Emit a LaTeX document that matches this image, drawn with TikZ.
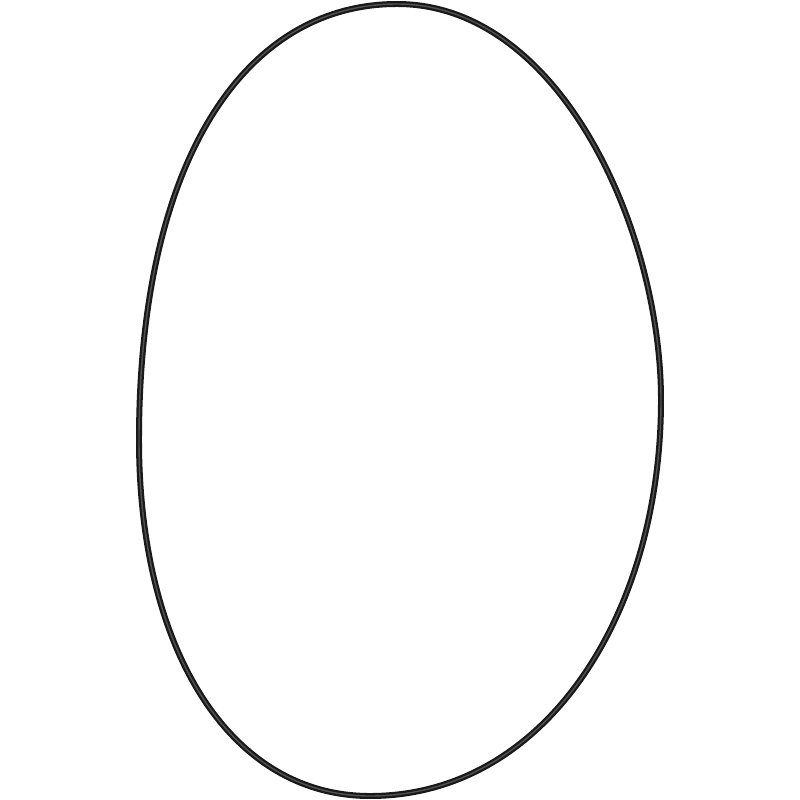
\documentclass[tikz,border=0pt]{standalone}
\usepackage{tikz}
\begin{document}
\begin{tikzpicture}[x=0.01cm,y=-0.01cm,
    ring/.style={draw=black!90,line width=0.65pt,double=black!68,double distance=0.4pt}]
    \useasboundingbox (0,0) rectangle (800,800);
    % o-ring outline: top, right, bottom, left
    \coordinate (top) at (397,4);
    \coordinate (right) at (661,400);
    \coordinate (bottom) at (370,796);
    \coordinate (left) at (139,440);
    \draw[ring] (top) .. controls (560,4) and (661,230) .. (right)
        .. controls (661,615) and (545,796) .. (bottom)
        .. controls (230,796) and (139,650) .. (left)
        .. controls (139,160) and (245,4) .. (top) -- cycle;
\end{tikzpicture}
\end{document}
